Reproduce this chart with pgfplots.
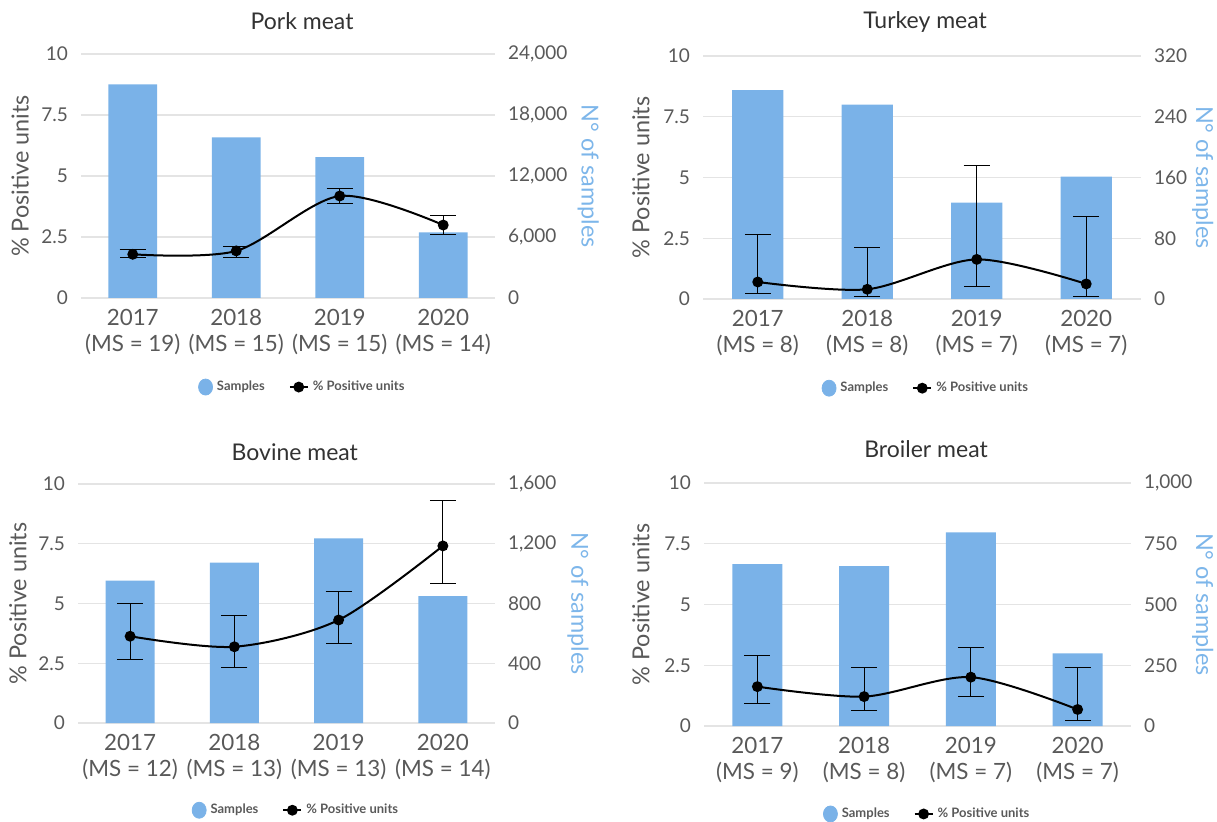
\documentclass[border=0pt]{standalone}
\usepackage{fontspec}
\setmainfont{Lato}
\usepackage{pgfplots}
\usepackage{pgfplotstable}
\pgfplotsset{compat=1.18}
\definecolor{barblue}{RGB}{122,178,232}
\definecolor{labblue}{RGB}{125,182,234}
\definecolor{txtgray}{RGB}{89,89,89}
\definecolor{titlegray}{RGB}{50,50,50}
\definecolor{gridgray}{RGB}{228,228,228}

\pgfplotstableread{
x n p ep em
0 21000 1.79 0.20 0.11
1 15800 1.93 0.19 0.25
2 13850 4.18 0.30 0.30
3 6450 2.99 0.41 0.37
}\pork
\pgfplotstableread{
x n p ep em
0 275 0.70 1.94 0.49
1 256 0.40 1.72 0.28
2 127 1.63 3.88 1.12
3 161 0.62 2.77 0.50
}\turkey
\pgfplotstableread{
x n p ep em
0 953 3.63 1.39 0.99
1 1073 3.19 1.30 0.86
2 1236 4.31 1.19 1.00
3 850 7.41 1.89 1.59
}\bovine
\pgfplotstableread{
x n p ep em
0 666 1.62 1.30 0.70
1 658 1.21 1.20 0.58
2 797 2.01 1.21 0.79
3 299 0.68 1.73 0.47
}\broiler

\pgfplotsset{
  common/.style={scale only axis, xmin=-0.5, xmax=3.5, ymin=0, enlargelimits=false,
    xtick={0,1,2,3}, major tick length=0pt,
    /pgf/number format/assume math mode=true,
    tick label style={font=\fontsize{9.5}{11}\selectfont, text=txtgray}},
  baraxis/.style={common, axis y line*=right, axis x line*=bottom,
    x axis line style={gridgray, line width=0.8pt}, y axis line style={draw=none},
    ymajorgrids, grid style={gridgray, line width=0.6pt},
    scaled y ticks=false, yticklabel style={/pgf/number format/1000 sep={,}, xshift=3pt},
    xticklabel style={align=center, font=\fontsize{11.2}{13}\selectfont, text=txtgray, yshift=-2.2pt},
    ylabel={N° of samples},
    ylabel style={font=\fontsize{11.7}{13}\selectfont, text=labblue, anchor=center, rotate=180}},
  pctaxis/.style={common, ymax=10, ytick={0,2.5,5,7.5,10}, axis y line*=left, axis x line=none,
    y axis line style={draw=none}, yticklabel style={xshift=-3pt},
    ylabel={\% Positive units},
    ylabel style={font=\fontsize{11.7}{13}\selectfont, text=txtgray, anchor=center},
    title style={font=\fontsize{11.5}{13}\selectfont, text=titlegray, anchor=center},
    legend style={draw=none, fill=none, legend columns=2, anchor=center,
      font=\fontsize{6.5}{8}\selectfont\bfseries, text=txtgray,
      /tikz/every even column/.append style={column sep=10pt}}},
  barplot/.style={ybar, bar width=0.47, fill=barblue, draw=none},
  pctplot/.style={black, line width=1pt, smooth, mark=*, mark size=2.2pt,
    legend image code/.code={\draw[black, line width=1pt] (0pt,0pt) -- (9pt,0pt); \fill[black] (4.5pt,0pt) circle (2.2pt);},
    error bars/.cd, y dir=both, y explicit,
    error bar style={black, line width=0.5pt},
    error mark options={rotate=90, black, mark size=6.5pt, line width=0.5pt}},
  sampimg/.style={legend image code/.code={\fill[barblue] (3pt,0pt) ellipse (3.5pt and 4pt);}}
}

\begin{document}
\begin{tikzpicture}
\useasboundingbox (0,0) rectangle (608.5pt,410.5pt);
% Pork
\begin{axis}[baraxis, at={(40.5pt,261.5pt)}, anchor=south west, width=207pt, height=122pt,
  ymax=24000, ytick distance=6000,
  xticklabels={{2017\\(MS = 19)},{2018\\(MS = 15)},{2019\\(MS = 15)},{2020\\(MS = 14)}},
  ylabel style={at={(axis description cs:1.225,0.5)}}]
\addplot[barplot] table[x=x,y=n] {\pork};
\end{axis}
\begin{axis}[pctaxis, at={(40.5pt,261.5pt)}, anchor=south west, width=207pt, height=122pt,
  title={Pork meat}, title style={at={(0.534,1)}, yshift=10.5pt},
  ylabel style={at={(axis description cs:-0.147,0.5)}},
  legend style={at={(0.537,-0.365)}}]
\addlegendimage{sampimg}
\addlegendentry{Samples}
\addplot[pctplot] table[x=x,y=p,y error plus=ep,y error minus=em] {\pork};
\addlegendentry{\% Positive units}
\end{axis}
% Turkey
\begin{axis}[baraxis, at={(351.5pt,261pt)}, anchor=south west, width=219pt, height=121.5pt,
  ymax=320, ytick distance=80,
  xticklabels={{2017\\(MS = 8)},{2018\\(MS = 8)},{2019\\(MS = 7)},{2020\\(MS = 7)}},
  ylabel style={at={(axis description cs:1.141,0.5)}}]
\addplot[barplot] table[x=x,y=n] {\turkey};
\end{axis}
\begin{axis}[pctaxis, at={(351.5pt,261pt)}, anchor=south west, width=219pt, height=121.5pt,
  title={Turkey meat}, title style={at={(0.507,1)}, yshift=11pt},
  ylabel style={at={(axis description cs:-0.142,0.5)}},
  legend style={at={(0.511,-0.367)}}]
\addlegendimage{sampimg}
\addlegendentry{Samples}
\addplot[pctplot] table[x=x,y=p,y error plus=ep,y error minus=em] {\turkey};
\addlegendentry{\% Positive units}
\end{axis}
% Bovine
\begin{axis}[baraxis, at={(39pt,49pt)}, anchor=south west, width=208.5pt, height=119.5pt,
  ymax=1600, ytick distance=400,
  xticklabels={{2017\\(MS = 12)},{2018\\(MS = 13)},{2019\\(MS = 13)},{2020\\(MS = 14)}},
  ylabel style={at={(axis description cs:1.199,0.5)}}]
\addplot[barplot] table[x=x,y=n] {\bovine};
\end{axis}
\begin{axis}[pctaxis, at={(39pt,49pt)}, anchor=south west, width=208.5pt, height=119.5pt,
  title={Bovine meat}, title style={at={(0.52,1)}, yshift=10pt},
  ylabel style={at={(axis description cs:-0.144,0.5)}},
  legend style={at={(0.525,-0.365)}}]
\addlegendimage{sampimg}
\addlegendentry{Samples}
\addplot[pctplot] table[x=x,y=p,y error plus=ep,y error minus=em] {\bovine};
\addlegendentry{\% Positive units}
\end{axis}
% Broiler
\begin{axis}[baraxis, at={(352pt,47.5pt)}, anchor=south west, width=213.5pt, height=121.5pt,
  ymax=1000, ytick distance=250,
  xticklabels={{2017\\(MS = 9)},{2018\\(MS = 8)},{2019\\(MS = 7)},{2020\\(MS = 7)}},
  ylabel style={at={(axis description cs:1.168,0.5)}}]
\addplot[barplot] table[x=x,y=n] {\broiler};
\end{axis}
\begin{axis}[pctaxis, at={(352pt,47.5pt)}, anchor=south west, width=213.5pt, height=121.5pt,
  title={Broiler meat}, title style={at={(0.52,1)}, yshift=11pt},
  ylabel style={at={(axis description cs:-0.148,0.5)}},
  legend style={at={(0.525,-0.362)}}]
\addlegendimage{sampimg}
\addlegendentry{Samples}
\addplot[pctplot] table[x=x,y=p,y error plus=ep,y error minus=em] {\broiler};
\addlegendentry{\% Positive units}
\end{axis}
\end{tikzpicture}
\end{document}
